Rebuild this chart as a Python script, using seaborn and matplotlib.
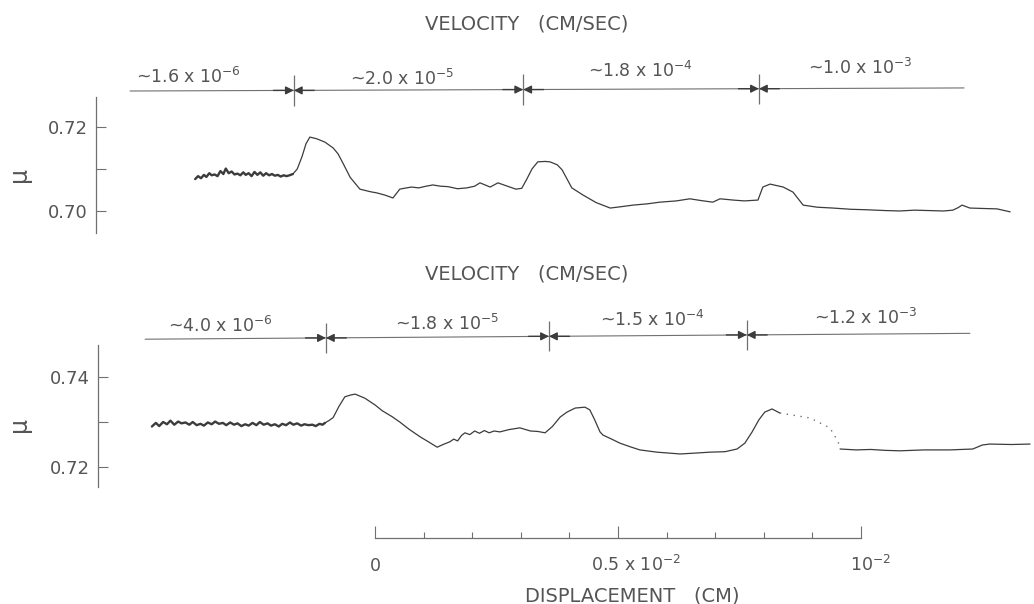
# Friction coefficient vs displacement at stepped velocities (two runs)
# Redrawn from a scanned figure with seaborn / matplotlib.

import numpy as np
import matplotlib
matplotlib.use("Agg")
import matplotlib.pyplot as plt
import seaborn as sns

# --- Data (displacement in units of 1e-3 cm, mu = friction coefficient) ---

# top run: jagged part at the slowest velocity
TOP_NOISE_X = [-3.70, -3.64, -3.58, -3.52, -3.47, -3.41, -3.36, -3.30, -3.24, -3.18,
               -3.12, -3.07, -3.01, -2.95, -2.89, -2.83, -2.77, -2.71, -2.66, -2.60,
               -2.54, -2.48, -2.42, -2.36, -2.30, -2.24, -2.18, -2.12, -2.06, -2.00,
               -1.94, -1.88, -1.82, -1.76, -1.69]
TOP_NOISE_MU = [0.7076, 0.7083, 0.7078, 0.7086, 0.7081, 0.7090, 0.7085, 0.7087, 0.7083, 0.7095,
                0.7088, 0.7101, 0.7090, 0.7094, 0.7087, 0.7089, 0.7085, 0.7092, 0.7086, 0.7090,
                0.7083, 0.7093, 0.7086, 0.7092, 0.7084, 0.7090, 0.7085, 0.7088, 0.7084, 0.7086,
                0.7082, 0.7085, 0.7083, 0.7085, 0.7088]
# top run: rest of the trace
TOP_X = [-1.69, -1.60, -1.50, -1.42, -1.34, -1.20, -1.03, -0.86, -0.76, -0.66,
         -0.51, -0.31, -0.10, 0.04, 0.20, 0.37, 0.51, 0.60, 0.75, 0.90,
         1.05, 1.19, 1.35, 1.50, 1.70, 1.89, 2.05, 2.16, 2.37, 2.53,
         2.70, 2.90, 3.02, 3.12, 3.23, 3.35, 3.50, 3.60, 3.75, 3.85,
         4.05, 4.28, 4.55, 4.84, 5.05, 5.31, 5.60, 5.86, 6.20, 6.48,
         6.70, 6.95, 7.10, 7.37, 7.60, 7.88, 7.98, 8.13, 8.40, 8.60,
         8.81, 9.10, 9.42, 9.80, 10.10, 10.50, 10.80, 11.10, 11.40, 11.70,
         11.89, 12.00, 12.08, 12.24, 12.50, 12.80, 13.07]
TOP_MU = [0.7088, 0.7100, 0.7130, 0.7160, 0.7176, 0.7172, 0.7164, 0.7150, 0.7136, 0.7114,
          0.7080, 0.7052, 0.7046, 0.7043, 0.7038, 0.7031, 0.7052, 0.7054, 0.7057, 0.7055,
          0.7059, 0.7062, 0.7059, 0.7058, 0.7053, 0.7055, 0.7059, 0.7067, 0.7057, 0.7067,
          0.7060, 0.7052, 0.7054, 0.7075, 0.7100, 0.7117, 0.7118, 0.7117, 0.7110, 0.7098,
          0.7055, 0.7038, 0.7020, 0.7007, 0.7010, 0.7014, 0.7017, 0.7021, 0.7024, 0.7029,
          0.7025, 0.7021, 0.7029, 0.7026, 0.7024, 0.7026, 0.7057, 0.7064, 0.7057, 0.7045,
          0.7014, 0.7009, 0.7007, 0.7004, 0.7003, 0.7001, 0.7000, 0.7002, 0.7001, 0.7000,
          0.7002, 0.7008, 0.7014, 0.7007, 0.7006, 0.7005, 0.6998]

# bottom run: jagged part at the slowest velocity
BOT_NOISE_X = [-4.59, -4.51, -4.44, -4.36, -4.28, -4.21, -4.13, -4.05, -3.98, -3.90,
               -3.82, -3.75, -3.67, -3.59, -3.52, -3.44, -3.36, -3.29, -3.21, -3.13,
               -3.06, -2.98, -2.90, -2.83, -2.75, -2.67, -2.60, -2.52, -2.44, -2.37,
               -2.29, -2.21, -2.14, -2.06, -1.98, -1.91, -1.83, -1.75, -1.68, -1.60,
               -1.52, -1.45, -1.37, -1.29, -1.22, -1.14, -1.08, -1.03]
BOT_NOISE_MU = [0.7290, 0.7298, 0.7291, 0.7300, 0.7295, 0.7303, 0.7294, 0.7301, 0.7297, 0.7299,
                0.7294, 0.7300, 0.7293, 0.7296, 0.7292, 0.7299, 0.7295, 0.7301, 0.7296, 0.7298,
                0.7293, 0.7299, 0.7294, 0.7297, 0.7291, 0.7295, 0.7292, 0.7298, 0.7293, 0.7300,
                0.7294, 0.7297, 0.7292, 0.7295, 0.7290, 0.7296, 0.7293, 0.7299, 0.7294, 0.7297,
                0.7292, 0.7295, 0.7293, 0.7294, 0.7291, 0.7296, 0.7294, 0.7298]
# bottom run: solid trace up to the pen gap
BOT_X = [-1.03, -0.95, -0.86, -0.74, -0.62, -0.50, -0.41, -0.21, 0.00, 0.15,
         0.35, 0.51, 0.70, 0.93, 1.10, 1.28, 1.40, 1.54, 1.62, 1.70,
         1.78, 1.85, 1.95, 2.05, 2.15, 2.25, 2.35, 2.45, 2.57, 2.75,
         2.98, 3.20, 3.35, 3.50, 3.65, 3.81, 3.95, 4.12, 4.32, 4.42,
         4.52, 4.63, 4.69, 4.85, 5.04, 5.25, 5.45, 5.80, 6.28, 6.60,
         6.89, 7.20, 7.45, 7.61, 7.76, 7.90, 8.02, 8.17, 8.33]
BOT_MU = [0.7298, 0.7303, 0.7310, 0.7335, 0.7356, 0.7360, 0.7362, 0.7353, 0.7338, 0.7325,
          0.7312, 0.7300, 0.7284, 0.7267, 0.7256, 0.7244, 0.7250, 0.7256, 0.7262, 0.7258,
          0.7270, 0.7276, 0.7272, 0.7280, 0.7275, 0.7281, 0.7276, 0.7280, 0.7278, 0.7283,
          0.7287, 0.7280, 0.7279, 0.7276, 0.7290, 0.7311, 0.7322, 0.7331, 0.7333, 0.7327,
          0.7305, 0.7278, 0.7271, 0.7263, 0.7253, 0.7245, 0.7238, 0.7233, 0.7229, 0.7231,
          0.7233, 0.7234, 0.7240, 0.7253, 0.7278, 0.7305, 0.7322, 0.7329, 0.7320]
# bottom run: faint dotted stretch, then the tail
BOT_DOT_X = [8.33, 8.95, 9.36, 9.53, 9.57]
BOT_DOT_MU = [0.7320, 0.7309, 0.7287, 0.7256, 0.7240]
BOT_TAIL_X = [9.57, 9.90, 10.20, 10.50, 10.80, 11.30, 11.83, 12.30, 12.50, 12.65, 13.10, 13.48]
BOT_TAIL_MU = [0.7240, 0.7238, 0.7239, 0.7237, 0.7236, 0.7238, 0.7238, 0.7240, 0.7249, 0.7251,
               0.7250, 0.7251]

# velocity steps (cm/sec) and where they change
TOP_VEL_LABELS = [r"~1.6 x 10$^{-6}$", r"~2.0 x 10$^{-5}$", r"~1.8 x 10$^{-4}$", r"~1.0 x 10$^{-3}$"]
TOP_VEL_BREAKS = [-1.67, 3.05, 7.90]
BOT_VEL_LABELS = [r"~4.0 x 10$^{-6}$", r"~1.8 x 10$^{-5}$", r"~1.5 x 10$^{-4}$", r"~1.2 x 10$^{-3}$"]
BOT_VEL_BREAKS = [-1.01, 3.58, 7.65]

TOP_YTICKS = [0.70, 0.72]
TOP_YMINOR = [0.71]
BOT_YTICKS = [0.72, 0.74]
BOT_YMINOR = [0.73]

SCALE_MAJOR = [0, 5, 10]
SCALE_MINOR = [1, 2, 3, 4, 6, 7, 8, 9]
SCALE_LABELS = ["0", r"0.5 x 10$^{-2}$", r"10$^{-2}$"]

# --- Layout / style ---
XLIM = (-7.716, 13.56)
TOP_YLIM = (0.69071, 0.75024)
BOT_YLIM = (0.71267, 0.76822)

TOP_VEL_SPAN = (-5.04, 12.12)
TOP_VEL_LEVEL = (0.72857, 0.7293)
TOP_LABEL_X = [-3.83, 0.56, 5.45, 9.98]
TOP_LABEL_MU = [0.7305, 0.7300, 0.7319, 0.7326]
TOP_TITLE_MU = 0.7431
BOT_VEL_SPAN = (-4.73, 12.24)
BOT_VEL_LEVEL = (0.7484, 0.7497)
BOT_LABEL_X = [-3.17, 1.48, 5.72, 10.10]
BOT_LABEL_MU = [0.7500, 0.7504, 0.7513, 0.7518]
BOT_TITLE_MU = 0.7616

TEXT = "#555555"
CURVE = "#3c3c3c"
GREY = "#707070"

sns.set_theme(style="ticks")
plt.rcParams["font.family"] = ["DejaVu Sans"]

fig = plt.figure(figsize=(10.34, 6.04), dpi=100)
ax_top = fig.add_axes([0, 1 - 250 / 604, 1, 250 / 604])
ax_bot = fig.add_axes([0, 1 - 500 / 604, 1, 250 / 604])
ax_sc = fig.add_axes([0, 1 - 538 / 604, 1, 20 / 604])


def style_panel(ax, ylim, spine_x, bounds, major, minor, label_y):
    ax.set_xlim(XLIM)
    ax.set_ylim(ylim)
    ax.set_facecolor("none")
    for s in ["top", "right", "bottom"]:
        ax.spines[s].set_visible(False)
    ax.spines["left"].set_position(("data", spine_x))
    ax.spines["left"].set_bounds(*bounds)
    ax.spines["left"].set_color(GREY)
    ax.spines["left"].set_linewidth(0.9)
    ax.set_xticks([])
    ax.set_yticks(major)
    ax.set_yticks(minor, minor=True)
    ax.set_yticklabels([f"{v:.2f}" for v in major])
    ax.tick_params(axis="y", which="both", left=True, direction="in", length=7,
                   width=0.8, colors=GREY, labelcolor=TEXT, labelsize=13, pad=6)
    ax.set_ylabel("μ", fontsize=17, color=TEXT)
    ax.yaxis.set_label_coords(0.03, label_y)


def draw_velocity(ax, labels, breaks, span, level, label_x, label_mu, title_mu, half):
    ax.plot(span, level, color=GREY, lw=0.8)
    for b in breaks:
        y = np.interp(b, span, level)
        ax.vlines(b, y - half, y + half, color=GREY, lw=0.9)
        for side in (-1, 1):
            ax.annotate("", xy=(b, y), xytext=(b + side * 0.42, y),
                        arrowprops=dict(arrowstyle="-|>", color=CURVE, lw=1.0,
                                        mutation_scale=12, shrinkA=0, shrinkB=0))
    for text, x, y in zip(labels, label_x, label_mu):
        ax.text(x, y, text, ha="center", va="baseline", fontsize=12.5, color=TEXT)
    ax.text(3.13, title_mu, "VELOCITY   (CM/SEC)", ha="center", va="baseline",
            fontsize=14, color=TEXT)


# --- Top run ---
style_panel(ax_top, TOP_YLIM, -5.74, (0.6948, 0.7271), TOP_YTICKS, TOP_YMINOR, 0.30)
sns.lineplot(x=TOP_NOISE_X, y=TOP_NOISE_MU, ax=ax_top, color=CURVE, lw=1.7,
             estimator=None, sort=False)
sns.lineplot(x=TOP_X, y=TOP_MU, ax=ax_top, color=CURVE, lw=0.9,
             estimator=None, sort=False)
draw_velocity(ax_top, TOP_VEL_LABELS, TOP_VEL_BREAKS, TOP_VEL_SPAN, TOP_VEL_LEVEL,
              TOP_LABEL_X, TOP_LABEL_MU, TOP_TITLE_MU, 0.0036)

# --- Bottom run ---
style_panel(ax_bot, BOT_YLIM, -5.70, (0.7156, 0.7471), BOT_YTICKS, BOT_YMINOR, 0.30)
sns.lineplot(x=BOT_NOISE_X, y=BOT_NOISE_MU, ax=ax_bot, color=CURVE, lw=1.7,
             estimator=None, sort=False)
sns.lineplot(x=BOT_X, y=BOT_MU, ax=ax_bot, color=CURVE, lw=0.9,
             estimator=None, sort=False)
sns.lineplot(x=BOT_DOT_X, y=BOT_DOT_MU, ax=ax_bot, color=GREY, lw=1.0,
             linestyle=(0, (1, 4)), estimator=None, sort=False)
sns.lineplot(x=BOT_TAIL_X, y=BOT_TAIL_MU, ax=ax_bot, color=CURVE, lw=0.9,
             estimator=None, sort=False)
draw_velocity(ax_bot, BOT_VEL_LABELS, BOT_VEL_BREAKS, BOT_VEL_SPAN, BOT_VEL_LEVEL,
              BOT_LABEL_X, BOT_LABEL_MU, BOT_TITLE_MU, 0.0033)

# --- Displacement scale bar ---
ax_sc.set_xlim(XLIM)
ax_sc.set_ylim(0, 1)
ax_sc.set_facecolor("none")
for s in ["top", "right", "left"]:
    ax_sc.spines[s].set_visible(False)
ax_sc.spines["bottom"].set_bounds(SCALE_MAJOR[0], SCALE_MAJOR[-1])
ax_sc.spines["bottom"].set_color(GREY)
ax_sc.spines["bottom"].set_linewidth(0.9)
ax_sc.set_yticks([])
ax_sc.set_xticks(SCALE_MAJOR)
ax_sc.set_xticks(SCALE_MINOR, minor=True)
ax_sc.tick_params(axis="x", which="major", direction="in", length=9, width=0.8,
                  colors=GREY, labelbottom=False)
ax_sc.tick_params(axis="x", which="minor", direction="in", length=4.5, width=0.8,
                  colors=GREY, labelbottom=False)
label_shift = [0, 13, 7]
for pos, text, dx in zip(SCALE_MAJOR, SCALE_LABELS, label_shift):
    ax_sc.annotate(text, xy=(pos, 0), xycoords=("data", "axes fraction"),
                   xytext=(dx, -24), textcoords="offset points",
                   ha="center", va="baseline", fontsize=12.5, color=TEXT)
ax_sc.annotate("DISPLACEMENT   (CM)", xy=(5.3, 0), xycoords=("data", "axes fraction"),
               xytext=(0, -46), textcoords="offset points",
               ha="center", va="baseline", fontsize=14, color=TEXT)

fig.savefig("out.png", dpi=100, facecolor="white")
